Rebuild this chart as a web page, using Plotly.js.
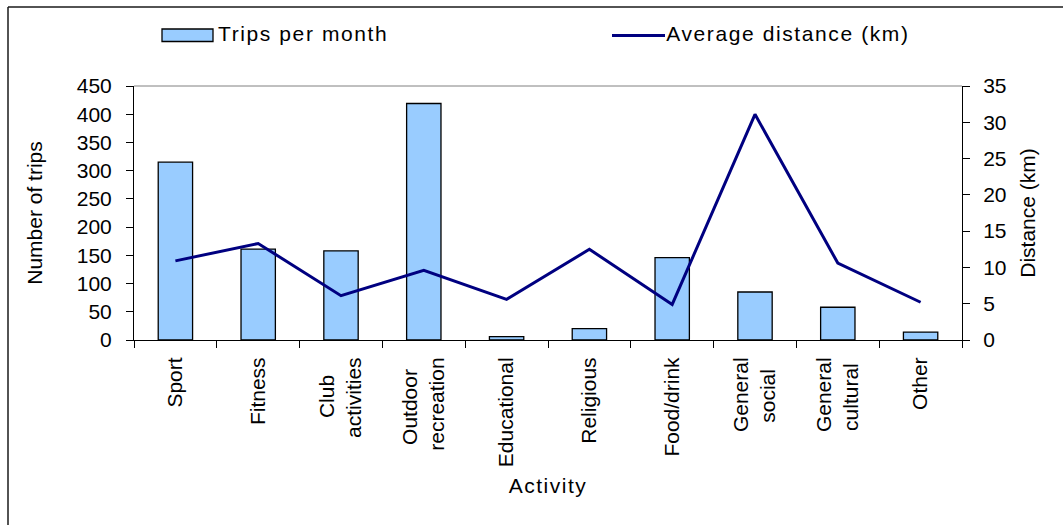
<!DOCTYPE html>
<html>
<head>
<meta charset="utf-8">
<script src="https://cdn.plot.ly/plotly-3.0.1.min.js"></script>
<style>
  html, body { margin: 0; padding: 0; background: #fff; }
  #chart { width: 1063px; height: 525px; }
  #chart .annotation-text { letter-spacing: 1.6px; }
  #chart .g-xtitle text { letter-spacing: 1.5px; }
</style>
</head>
<body>
<div id="chart"></div>
<script>
// ---- data ----
const categories = ["Sport", "Fitness", "Club activities", "Outdoor recreation", "Educational",
                    "Religious", "Food/drink", "General social", "General cultural", "Other"];
const tickLabels = ["Sport", "Fitness", "Club<br>activities", "Outdoor<br>recreation", "Educational",
                    "Religious", "Food/drink", "General<br>social", "General<br>cultural", "Other"];
const tripsPerMonth = [315, 161, 158, 419, 6, 20, 146, 85, 58, 14];
const avgDistanceKm = [10.9, 13.3, 6.1, 9.6, 5.6, 12.5, 4.9, 31.1, 10.6, 5.2];
const barSeriesName = "Trips per month";
const lineSeriesName = "Average distance (km)";

// ---- layout geometry ----
const W = 1063, H = 525;
const M = { l: 134, r: 101, t: 86, b: 185 };
const PW = W - M.l - M.r, PH = H - M.t - M.b;
const px = x => (x - M.l) / PW;          // pixel -> paper x
const py = y => (H - M.b - y) / PH;      // pixel -> paper y

const FONT = "'Liberation Sans', Arial, sans-serif";
const TICK_SIZE = 21;
const LEGEND_SPACING = 1.6;

// centre multi-line rotated tick labels (pad shorter lines with NBSP)
const measureCtx = document.createElement("canvas").getContext("2d");
measureCtx.font = TICK_SIZE + "px 'Liberation Sans'";
function centreLines(label) {
  const lines = label.split("<br>");
  if (lines.length < 2) return label;
  const widths = lines.map(s => measureCtx.measureText(s).width);
  const maxW = Math.max(...widths);
  const sp = measureCtx.measureText("\u00A0").width || TICK_SIZE * 0.278;
  return lines.map((s, i) => s + "\u00A0".repeat(Math.round((maxW - widths[i]) / 2 / sp))).join("<br>");
}
const tickText = tickLabels.map(centreLines);
// half of the extra width added by CSS letter-spacing (text is centred in its box)
const spacingShift = s => (s.length - 1) * LEGEND_SPACING / 2;

const traces = [
  {
    type: "bar", name: barSeriesName, x: categories, y: tripsPerMonth,
    marker: { color: "#99CCFF", line: { color: "#000000", width: 1.3 } },
    width: 0.415, yaxis: "y", showlegend: false, hoverinfo: "x+y"
  },
  {
    type: "scatter", mode: "lines", name: lineSeriesName, x: categories, y: avgDistanceKm,
    line: { color: "#000080", width: 3 }, yaxis: "y2", showlegend: false
  }
];

const layout = {
  width: W, height: H,
  margin: M,
  paper_bgcolor: "#ffffff", plot_bgcolor: "#ffffff",
  font: { family: FONT, color: "#000000", size: TICK_SIZE },
  showlegend: false,
  xaxis: {
    type: "category", tickmode: "array", tickvals: categories, ticktext: tickText,
    tickangle: -90, tickson: "boundaries", ticks: "outside", ticklen: 7, tickcolor: "#000",
    ticklabelstandoff: 8,
    showline: true, linecolor: "#000", linewidth: 1, showgrid: false, zeroline: false,
    tickfont: { size: TICK_SIZE },
    title: { text: "Activity", font: { size: 21 }, standoff: 12 },
    automargin: false, fixedrange: true
  },
  yaxis: {
    range: [0, 450], dtick: 50, tick0: 0, ticks: "outside", ticklen: 7, tickcolor: "#000",
    ticklabelstandoff: 10,
    showline: true, linecolor: "#000", linewidth: 1, showgrid: false, zeroline: false,
    tickfont: { size: TICK_SIZE },
    title: { text: "Number of trips", font: { size: 21 }, standoff: 28 },
    automargin: false, fixedrange: true
  },
  yaxis2: {
    overlaying: "y", side: "right", range: [0, 35], dtick: 5, tick0: 0,
    ticks: "outside", ticklen: 7, tickcolor: "#000", ticklabelstandoff: 9,
    showline: true, linecolor: "#000", linewidth: 1, showgrid: false, zeroline: false,
    tickfont: { size: TICK_SIZE },
    title: { text: "Distance (km)", font: { size: 21 }, standoff: 14 },
    automargin: false, fixedrange: true
  },
  shapes: [
    // top border of plot area (gray)
    { type: "line", xref: "paper", yref: "paper", x0: 0, x1: 1, y0: 1, y1: 1,
      line: { color: "#808080", width: 1 } },
    // outer chart frame (top and left)
    { type: "line", xref: "paper", yref: "paper", x0: px(8), x1: px(W + 5), y0: py(7), y1: py(7),
      line: { color: "#1a1a1a", width: 1.5 } },
    { type: "line", xref: "paper", yref: "paper", x0: px(8), x1: px(8), y0: py(7), y1: py(H + 5),
      line: { color: "#1a1a1a", width: 1.5 } },
    // legend swatches
    { type: "rect", xref: "paper", yref: "paper", x0: px(162), x1: px(213), y0: py(41.5), y1: py(29),
      fillcolor: "#99CCFF", line: { color: "#000", width: 1.3 } },
    { type: "line", xref: "paper", yref: "paper", x0: px(612), x1: px(665), y0: py(35.5), y1: py(35.5),
      line: { color: "#000080", width: 3 } }
  ],
  annotations: [
    { xref: "paper", yref: "paper", x: px(217 + spacingShift(barSeriesName)), y: py(34),
      xanchor: "left", yanchor: "middle",
      text: barSeriesName, showarrow: false, font: { family: FONT, size: 21 } },
    { xref: "paper", yref: "paper", x: px(665 + spacingShift(lineSeriesName)), y: py(34),
      xanchor: "left", yanchor: "middle",
      text: lineSeriesName, showarrow: false, font: { family: FONT, size: 21 } }
  ]
};

Plotly.newPlot("chart", traces, layout, { displayModeBar: false, staticPlot: true });
</script>
</body>
</html>
